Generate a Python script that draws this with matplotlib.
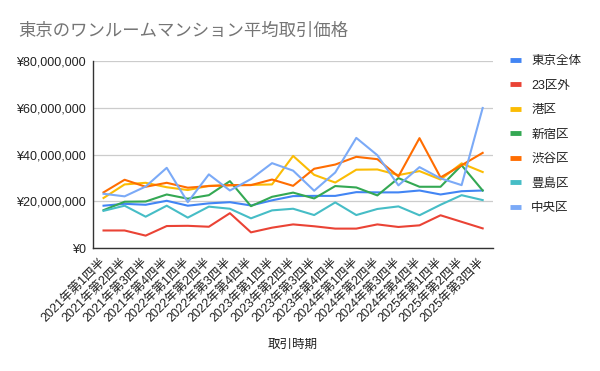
import matplotlib
matplotlib.use("Agg")
import matplotlib.pyplot as plt
from matplotlib.lines import Line2D
from matplotlib.ticker import FuncFormatter

plt.rcParams['font.family'] = ['Liberation Sans', 'Noto Sans CJK JP', 'DejaVu Sans']

# 取引時期 (quarters)
quarters = [f"{y}年第{q}四半" for y in (2021, 2022, 2023, 2024, 2025) for q in (1, 2, 3, 4)][:19]

# 平均取引価格 (million yen)
tokyo_all = [18.1, 18.9, 18.5, 20.2, 18.1, 19.1, 19.6, 18.2, 20.4, 22.2,
             22.3, 22.3, 23.9, 23.8, 23.8, 24.6, 22.9, 24.3, 24.6]
outside23 = [7.5, 7.5, 5.3, 9.4, 9.5, 9.1, 14.9, 6.7, 8.7, 10.1,
             9.3, 8.3, 8.3, 10.1, 9.0, 9.7, 14.0, 11.2, 8.4]
minato = [21.4, 27.2, 27.9, 26.0, 24.8, 26.6, 26.8, 27.0, 27.2, 39.4,
          31.3, 28.0, 33.5, 33.6, 31.2, 32.9, 29.3, 36.2, 32.5]
shinjuku = [16.2, 19.8, 19.9, 22.9, 21.1, 22.6, 28.6, 17.9, 21.9, 23.7,
            21.2, 26.5, 25.9, 22.5, 29.9, 26.2, 26.2, 35.4, 24.6]
shibuya = [23.8, 29.2, 26.2, 27.9, 25.8, 26.5, 26.9, 26.9, 29.3, 26.6,
           33.9, 35.7, 39.0, 38.0, 30.6, 47.0, 30.2, 35.4, 40.7]
toshima = [15.9, 18.1, 13.4, 18.1, 13.0, 17.7, 16.8, 12.7, 16.1, 16.8,
           14.1, 19.5, 14.1, 16.7, 17.8, 14.0, 18.5, 22.6, 20.5]
chuo = [23.2, 22.1, 26.3, 34.3, 19.6, 31.5, 24.6, 29.5, 36.3, 33.1,
        24.5, 32.3, 47.1, 39.7, 26.8, 34.6, 29.8, 26.9, 59.9]

names = ['東京全体', '23区外', '港区', '新宿区', '渋谷区', '豊島区', '中央区']
series = [tokyo_all, outside23, minato, shinjuku, shibuya, toshima, chuo]
colors = ['#4285F4', '#EA4335', '#FBBC04', '#34A853', '#FF6D01', '#46BDC6', '#7BAAF7']

fig = plt.figure(figsize=(6, 3.71), dpi=100)
ax = fig.add_axes([0.155, 0.3315, 0.667, 0.5041])

x = list(range(len(quarters)))
for vals, name, c in zip(series, names, colors):
    ax.plot(x, [v * 1e6 for v in vals], color=c, lw=1.5, label=name)

ax.set_xlim(-0.5, len(quarters) - 0.5)
ax.set_ylim(0, 80e6)
ax.set_yticks([0, 20e6, 40e6, 60e6, 80e6])
ax.yaxis.set_major_formatter(FuncFormatter(lambda v, p: '¥{:,.0f}'.format(v)))
ax.set_xticks(x)
ax.set_xticklabels(quarters, rotation=45, ha='right', va='center', rotation_mode='anchor')
ax.tick_params(axis='both', length=0, labelsize=9, colors='#222222')
ax.tick_params(axis='x', pad=9)
ax.tick_params(axis='y', pad=5)
ax.grid(axis='y', color='#cccccc', lw=0.9)
ax.set_axisbelow(True)
for s in ('top', 'right'):
    ax.spines[s].set_visible(False)
for s in ('left', 'bottom'):
    ax.spines[s].set_color('#333333')
    ax.spines[s].set_linewidth(1.0)

fig.text(0.5 * (0.155 + 0.822), 1 - 345 / 371, '取引時期', ha='center', va='center',
         fontsize=9, color='#222222')
fig.text(18 / 600, 1 - 31 / 371, '東京のワンルームマンション平均取引価格', ha='left', va='center',
         fontsize=12.5, color='#757575')

handles = [Line2D([], [], color=c, lw=3.5, solid_capstyle='butt') for c in colors]
leg = fig.legend(handles, names, loc='upper left', bbox_to_anchor=(505 / 600, 1 - 50 / 371),
                 frameon=False, fontsize=9, handlelength=0.9, handletextpad=0.8,
                 labelspacing=1.0, borderaxespad=0)
for t in leg.get_texts():
    t.set_color('#222222')

fig.savefig('out.png', dpi=100)
